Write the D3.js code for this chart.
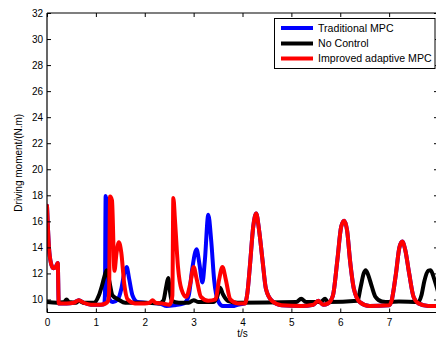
<!DOCTYPE html>
<html><head><meta charset="utf-8">
<script src="https://cdn.jsdelivr.net/npm/d3@7"></script>
<style>body{margin:0;background:#fff}svg{display:block}text{font-family:"Liberation Sans",Arial,sans-serif}</style>
</head><body><svg id="c" width="436" height="339"></svg>
<script>
const xTicks = [0,1,2,3,4,5,6,7];
const yTicks = [10,12,14,16,18,20,22,24,26,28,30,32];
const seriesNames = ["Traditional MPC","No Control","Improved adaptive MPC"];
const seriesColors = ["#0000ff","#000000","#ff0000"];

const redT = [0,0.04,0.08,0.13,0.18,0.22,0.24,0.27,0.4,0.55,0.65,0.75,0.9,1.1,1.2,1.25,1.27,1.29,1.33,1.38,1.42,1.47,1.52,1.58,1.65,1.8,2.0,2.1,2.16,2.22,2.35,2.5,2.54,2.565,2.585,2.62,2.68,2.75,2.85,2.93,3.0,3.06,3.15,3.3,3.45,3.52,3.59,3.66,3.75,3.9,4.05,4.1,4.15,4.22,4.28,4.34,4.41,4.48,4.6,4.8,5.2,5.45,5.55,5.65,5.75,5.85,5.94,6.02,6.08,6.14,6.2,6.28,6.4,6.6,7.0,7.05,7.14,7.21,7.27,7.33,7.41,7.5,7.6,7.8,8.0];
const redV = [17.2,14.0,12.8,12.4,12.5,12.8,9.7,9.7,9.7,9.75,9.95,9.75,9.6,9.6,9.7,9.9,10.5,17.9,17.6,12.2,13.5,14.4,13.6,11.2,10.0,9.7,9.7,9.75,9.95,9.75,9.7,9.6,9.8,10.3,17.8,16.0,12.5,10.8,10.2,11.2,12.5,11.6,10.2,9.9,10.0,11.5,12.5,11.5,10.0,9.7,9.7,10.5,12.5,15.6,16.6,15.3,13.0,10.8,9.9,9.55,9.5,9.6,9.9,9.6,9.7,10.3,13.0,15.6,16.05,15.3,13.0,10.8,9.8,9.5,9.55,9.9,12.0,14.0,14.45,13.8,12.0,10.2,9.7,9.5,9.5];

const blackT = [0,0.2,0.35,0.4,0.45,0.6,0.65,0.75,0.96,1.06,1.12,1.17,1.22,1.27,1.34,1.46,1.6,2.0,2.3,2.38,2.44,2.48,2.51,2.55,2.7,2.9,3.0,3.1,3.4,3.48,3.54,3.6,3.7,3.9,5.1,5.2,5.3,5.6,5.69,5.75,6.35,6.42,6.48,6.52,6.57,6.645,6.72,6.85,7.0,7.2,7.6,7.66,7.72,7.8,7.85,7.92,8.0];
const blackV = [9.8,9.75,9.8,10.0,9.8,9.75,9.9,9.75,9.75,10.3,11.0,11.7,12.25,11.5,10.3,10.0,9.75,9.75,9.7,9.9,11.0,11.65,10.8,9.9,9.75,9.75,9.95,9.8,9.8,10.2,10.9,10.4,9.9,9.75,9.8,10.05,9.8,9.8,10.05,9.8,9.9,11.0,12.0,12.25,11.9,11.0,10.2,9.85,9.8,9.85,9.8,10.3,11.4,12.2,12.25,11.6,10.6];

const blueT = [0,0.04,0.08,0.13,0.18,0.22,0.24,0.27,0.4,0.55,0.65,0.75,0.9,1.1,1.17,1.185,1.2,1.215,1.24,1.28,1.35,1.45,1.52,1.58,1.63,1.68,1.75,1.85,2.0,2.3,2.45,2.6,2.8,2.9,2.97,3.06,3.12,3.18,3.23,3.3,3.36,3.42,3.5,3.6,3.8,3.9,4.05,4.1,4.15,4.22,4.28,4.34,4.41,4.48,4.6,4.8,5.2,5.45,5.55,5.65,5.75,5.85,5.94,6.02,6.08,6.14,6.2,6.28,6.4,6.6,7.0,7.05,7.14,7.21,7.27,7.33,7.41,7.5,7.6,7.8,8.0];
const blueV = [17.2,14.0,12.8,12.4,12.5,12.8,9.7,9.7,9.7,9.75,9.95,9.75,9.6,9.6,9.65,10.3,17.95,17.6,11.5,10.0,9.8,10.0,10.8,12.0,12.5,11.6,10.3,9.8,9.75,9.7,9.5,9.55,9.7,10.3,12.3,13.85,12.7,11.3,13.0,16.5,14.5,11.5,9.9,9.5,9.5,9.6,9.7,10.5,12.5,15.6,16.6,15.3,13.0,10.8,9.9,9.55,9.5,9.6,9.9,9.6,9.7,10.3,13.0,15.6,16.05,15.3,13.0,10.8,9.8,9.5,9.55,9.9,12.0,14.0,14.45,13.8,12.0,10.2,9.7,9.5,9.5];

const svg = d3.select("#c");
const L = 47, R = 438, T = 13, B = 312.5;
const x = d3.scaleLinear().domain([0,8]).range([L,R]);
const y = d3.scaleLinear().domain([9,32]).range([B,T]);

svg.append("defs").append("clipPath").attr("id","pc").append("rect")
  .attr("x",L).attr("y",T).attr("width",R-L).attr("height",B-T);

const series = [[blueT,blueV],[blackT,blackV],[redT,redV]];
const line = d3.line().x(d=>x(d[0])).y(d=>y(d[1])).curve(d3.curveMonotoneX);
const g = svg.append("g").attr("clip-path","url(#pc)");
series.forEach((s,i)=>{
  const pts = s[0].map((t,j)=>[t,s[1][j]]);
  g.append("path").datum(pts).attr("d",line).attr("fill","none")
    .attr("stroke",seriesColors[i]).attr("stroke-width",4).attr("stroke-linejoin","round").attr("stroke-linecap","round");
});

const ax = svg.append("g").attr("transform",`translate(0,${B})`)
  .call(d3.axisBottom(x).tickValues(xTicks).tickSize(-4).tickPadding(6).tickFormat(d3.format("d")));
const axT = svg.append("g").attr("transform",`translate(0,${T})`)
  .call(d3.axisTop(x).tickValues(xTicks).tickSize(-4).tickFormat(""));
const ay = svg.append("g").attr("transform",`translate(${L},0)`)
  .call(d3.axisLeft(y).tickValues(yTicks).tickSize(-4).tickPadding(4).tickFormat(d3.format("d")));
const ayR = svg.append("g").attr("transform",`translate(${R},0)`)
  .call(d3.axisRight(y).tickValues(yTicks).tickSize(-4).tickFormat(""));
[ax,axT,ay,ayR].forEach(a=>{
  a.select(".domain").attr("stroke","#000").attr("stroke-width",1.2);
  a.selectAll(".tick line").attr("stroke","#000");
  a.selectAll("text").attr("font-size",10).attr("fill","#000").style("font-family","'Liberation Sans',Arial,sans-serif");
});
ax.select(".domain").attr("d",`M${L},0H${R}`);
axT.select(".domain").attr("d",`M${L},0H${R}`);
ay.select(".domain").attr("d",`M0,${T}V${B}`);
ayR.select(".domain").attr("d",`M0,${T}V${B}`);

svg.append("text").attr("x",(L+R)/2).attr("y",337).attr("text-anchor","middle")
  .attr("font-size",10).text("t/s");
svg.append("text").attr("transform",`translate(22,${(T+B)/2}) rotate(-90)`).attr("text-anchor","middle")
  .attr("font-size",10).text("Driving moment/(N.m)");

const lg = svg.append("g");
lg.append("rect").attr("x",274.5).attr("y",18.5).attr("width",160.5).attr("height",50)
  .attr("fill","#fff").attr("stroke","#000").attr("stroke-width",1);
const ly = [28,43.5,58.5];
seriesNames.forEach((n,i)=>{
  lg.append("line").attr("x1",281).attr("x2",313).attr("y1",ly[i]).attr("y2",ly[i])
    .attr("stroke",seriesColors[i]).attr("stroke-width",4);
  lg.append("text").attr("x",318).attr("y",ly[i]+3.8).attr("font-size",10.6).text(n);
});
</script></body></html>
